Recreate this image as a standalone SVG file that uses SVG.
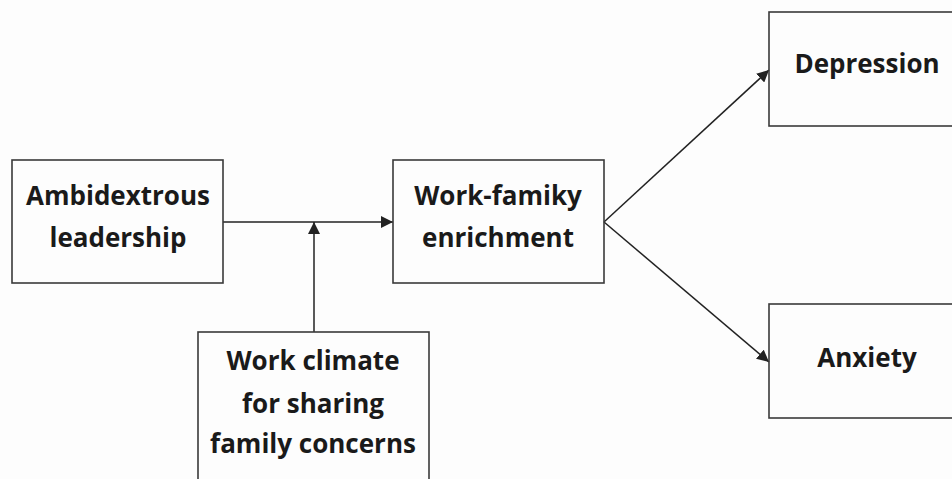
<svg xmlns="http://www.w3.org/2000/svg" width="952" height="479" viewBox="0 0 952 479">
<defs>
<style>
.box{fill:none;stroke:#3a3a3a;stroke-width:1.6}
.lbl{font-family:"Open Sans","Noto Sans","Liberation Sans",sans-serif;font-weight:bold;font-size:26px;fill:#1a1a1a;text-anchor:middle}
.ed{stroke:#222;stroke-width:1.5;fill:none}
</style>
<marker id="ah" viewBox="0 0 10 10" refX="10" refY="5" markerWidth="12" markerHeight="12" markerUnits="userSpaceOnUse" orient="auto">
<path d="M0,0 L10,5 L0,10 z" fill="#222"/>
</marker>
</defs>
<rect width="952" height="479" fill="#fdfdfd"/>
<g id="connectors">
<line class="ed" x1="223" y1="222" x2="393" y2="222" marker-end="url(#ah)"/>
<line class="ed" x1="314" y1="332" x2="314" y2="222" marker-end="url(#ah)"/>
<line class="ed" x1="604" y1="222" x2="769" y2="70" marker-end="url(#ah)"/>
<line class="ed" x1="604" y1="222" x2="769" y2="362" marker-end="url(#ah)"/>
</g>
<g id="ambidextrous">
<rect class="box" x="12" y="160" width="211" height="123"/>
<text class="lbl" x="118" y="205">Ambidextrous</text>
<text class="lbl" x="118" y="247">leadership</text>
</g>
<g id="workfamily">
<rect class="box" x="393" y="160" width="211" height="123"/>
<text class="lbl" x="498" y="205">Work-famiky</text>
<text class="lbl" x="498" y="247">enrichment</text>
</g>
<g id="climate">
<rect class="box" x="198" y="332" width="231" height="160"/>
<text class="lbl" x="313" y="370">Work climate</text>
<text class="lbl" x="313" y="413">for sharing</text>
<text class="lbl" x="313" y="453">family concerns</text>
</g>
<g id="depression">
<rect class="box" x="769" y="12" width="196" height="114"/>
<text class="lbl" x="867" y="73">Depression</text>
</g>
<g id="anxiety">
<rect class="box" x="769" y="304" width="196" height="114"/>
<text class="lbl" x="867" y="367">Anxiety</text>
</g>
</svg>
